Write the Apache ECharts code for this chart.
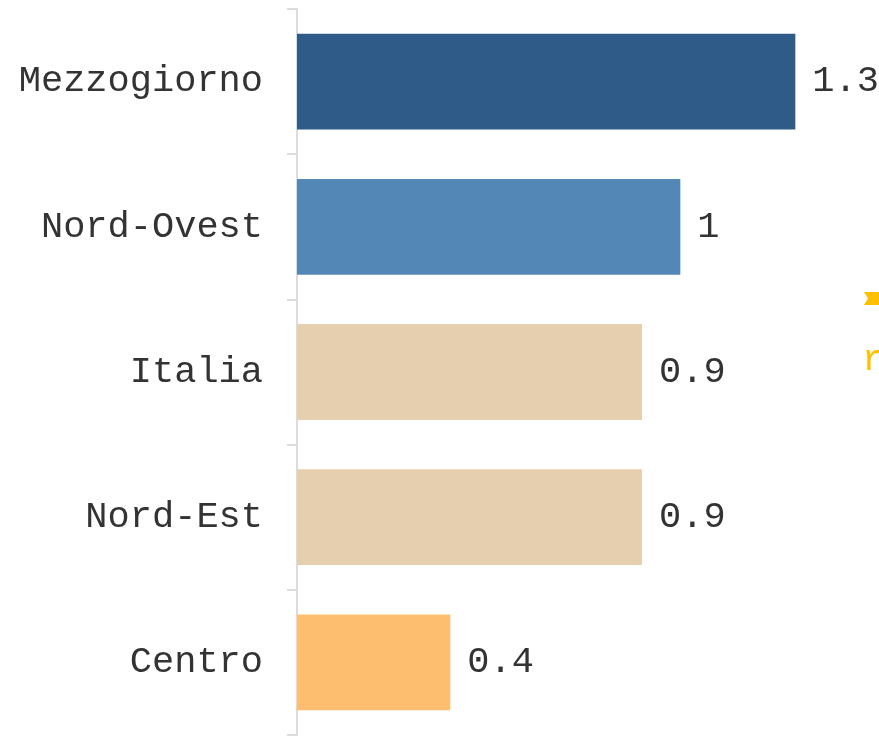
<!DOCTYPE html>
<html>
<head>
<meta charset="utf-8">
<script src="https://cdn.jsdelivr.net/npm/echarts@6/dist/echarts.min.js"></script>
<style>
    html, body {margin: 0; padding: 0; background: #fff;}
    #chart {width: 879px; height: 737px;}
</style>
</head>
<body>
<div id="chart"></div>
<script>
let categories = ['Mezzogiorno', 'Nord-Ovest', 'Italia', 'Nord-Est', 'Centro'];
let values = [1.3, 1, 0.9, 0.9, 0.4];
let colors = ['#2e5b88', '#5387b6', '#e5cfae', '#e5cfae', '#fdbf6f'];

let font = "'Liberation Mono', 'Courier New', monospace";
let chart = echarts.init(document.getElementById('chart'));
chart.setOption({
    animation: false,
    grid: {left: 297, right: 7, top: 9, bottom: 2},
    xAxis: {type: 'value', min: 0, max: 1.5, show: false},
    yAxis: {
        type: 'category', inverse: true, data: categories,
        axisLine: {show: true, lineStyle: {color: '#dcdcdc', width: 2}},
        axisTick: {show: true, length: 10, lineStyle: {color: '#dcdcdc', width: 2}},
        axisLabel: {color: '#333', fontFamily: font, fontSize: 37, margin: 34}
    },
    series: [{
        type: 'bar', barCategoryGap: '34%',
        data: values.map(function (v, i) {
            return {value: v, itemStyle: {color: colors[i]}};
        }),
        label: {show: true, position: 'right', distance: 17, color: '#333', fontFamily: font, fontSize: 37}
    }],
    graphic: [
        {type: 'polygon', shape: {points: [[864, 292], [879, 292], [879, 305], [864, 305], [868, 298.5]]}, style: {fill: '#ffc000'}},
        {type: 'text', left: 862, top: 342, style: {text: 'r', fill: '#ffc000', font: '37px ' + font}}
    ]
});
</script>
</body>
</html>
